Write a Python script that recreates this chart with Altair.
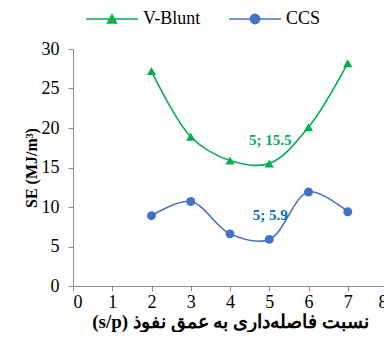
import altair as alt
import pandas as pd

# ---- data ----
x_vals = [2, 3, 4, 5, 6, 7]
vblunt_se = [27.2, 18.9, 15.9, 15.5, 20.1, 28.2]
ccs_se = [8.9, 10.7, 6.6, 5.9, 11.9, 9.4]
series_names = ["V-Blunt", "CCS"]
series_colors = ["#00B050", "#4472C4"]
series_shapes = ["triangle-up", "circle"]
label_texts = ["5; 15.5", "5; 5.9"]
label_x = [5, 5]
label_y = [15.5, 5.9]
label_colors = ["#00B050", "#0070C0"]
x_ticks = [0, 1, 2, 3, 4, 5, 6, 7, 8]
y_ticks = [0, 5, 10, 15, 20, 25, 30]
x_title = "(s/p) نسبت فاصله‌داری به عمق نفوذ"
y_title = "SE (MJ/m³)"

# legend symbol paths (line with marker)
legend_paths = [
    "M-1,0H1M-0.17,0.15L0.17,0.15L0,-0.16Z",
    "M-1,0H1M0.18,0A0.18,0.18,0,1,1,-0.18,0A0.18,0.18,0,1,1,0.18,0Z",
]
legend_x = [12, 155]

df_v = pd.DataFrame({"x": x_vals, "se": vblunt_se, "series": series_names[0]})
df_c = pd.DataFrame({"x": x_vals, "se": ccs_se, "series": series_names[1]})
df_lab = pd.DataFrame({"x": label_x, "se": label_y, "text": label_texts, "color": label_colors})

SERIF = "Times New Roman, Liberation Serif, serif"
AXIS_GRAY = "#8C8C8C"

x_enc = alt.X(
    "x:Q",
    scale=alt.Scale(domain=[0, 8], nice=False, zero=False),
    axis=alt.Axis(
        values=x_ticks, title=x_title, grid=False, format="d",
        labelFont=SERIF, labelFontSize=18, labelColor="black", labelPadding=2,
        tickSize=5, tickColor=AXIS_GRAY, domainColor=AXIS_GRAY,
        titleFont=SERIF, titleFontSize=19, titleFontWeight="bold", titleColor="black",
        titleY=35, titleBaseline="middle",
    ),
)
y_enc = alt.Y(
    "se:Q",
    scale=alt.Scale(domain=[0, 30], nice=False),
    axis=alt.Axis(
        values=y_ticks, title=y_title, grid=False,
        labelFont=SERIF, labelFontSize=18, labelColor="black", labelPadding=9,
        tickSize=5, tickColor=AXIS_GRAY, domainColor=AXIS_GRAY,
        titleFont=SERIF, titleFontSize=16, titleFontWeight="bold", titleColor="black",
        titlePadding=2,
    ),
)


def series_layer(df, i):
    color = alt.Color(
        "series:N",
        scale=alt.Scale(domain=[series_names[i]], range=[series_colors[i]]),
        legend=alt.Legend(
            title=None, orient="none", legendX=legend_x[i], legendY=-57,
            direction="horizontal",
            symbolType=legend_paths[i], symbolSize=2704,
            symbolStrokeWidth=1.5, symbolFillColor=series_colors[i],
            symbolStrokeColor=series_colors[i], symbolOpacity=1,
            labelFont=SERIF, labelFontSize=18, labelColor="black", labelOffset=4,
        ),
    )
    line = alt.Chart(df).mark_line(interpolate="catmull-rom", strokeWidth=1.6).encode(
        x=x_enc, y=y_enc, color=color
    )
    pts = alt.Chart(df).mark_point(
        shape=series_shapes[i], filled=True, size=85 if i == 0 else 80, opacity=1
    ).encode(x=x_enc, y=y_enc, color=color)
    return alt.layer(line, pts)


labels = alt.Chart(df_lab).mark_text(
    font=SERIF, fontSize=15, fontWeight="bold", dx=1, dy=-24, align="center", baseline="middle"
).encode(x=x_enc, y=y_enc, text="text:N", color=alt.Color("color:N", scale=None))

chart = (
    alt.layer(series_layer(df_v, 0), series_layer(df_c, 1), labels)
    .resolve_scale(color="independent")
    .properties(
        width=314, height=237,
        autosize=alt.AutoSizeParams(type="none"),
        padding={"left": 65, "top": 41, "right": -3, "bottom": 46},
    )
    .configure_view(stroke=None)
)

chart.save("out.html", embed_options={"renderer": "svg", "actions": False})
